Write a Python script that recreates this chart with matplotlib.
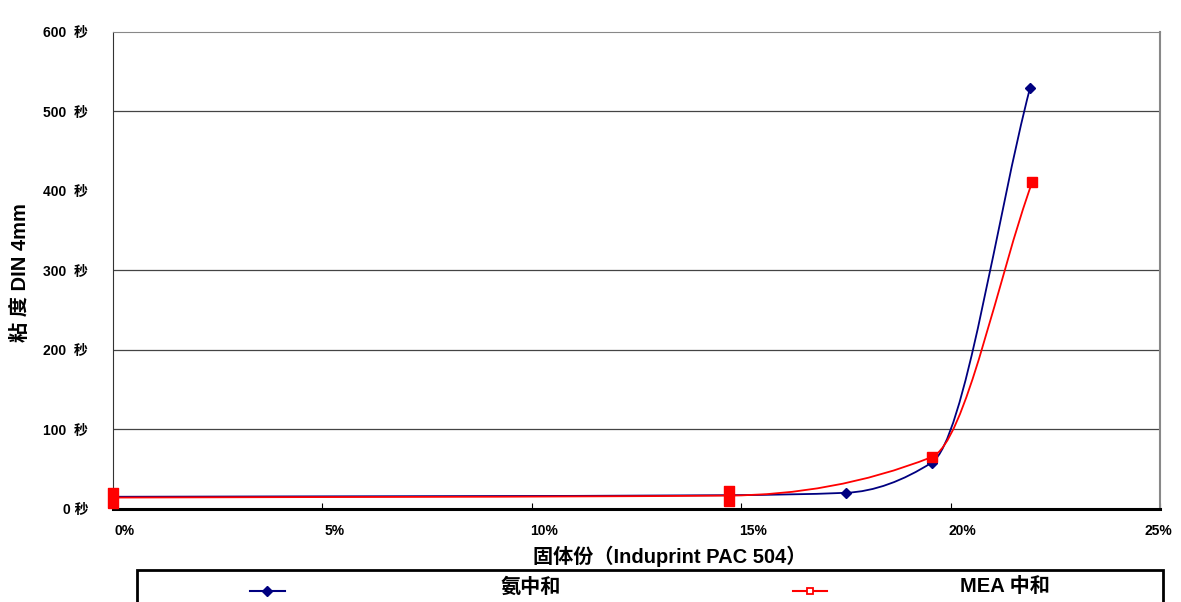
import numpy as np
import matplotlib.pyplot as plt
import matplotlib.transforms as mtransforms
from matplotlib.path import Path
from matplotlib.patches import PathPatch, Rectangle
from matplotlib.lines import Line2D

plt.rcParams['font.family'] = ['Liberation Sans', 'Noto Sans CJK SC']
plt.rcParams['font.weight'] = 'bold'

# data
solids = [0.0, 14.7, 17.5, 19.55, 21.9]          # % solids (Induprint PAC 504)
visc_ammonia = [15, 17, 20, 58, 530]              # s, ammonia neutralised
solids_mea = [0.0, 14.7, 19.55, 21.95]
visc_mea = [14, 16.5, 65, 411]                    # s, MEA neutralised

x_ticks = [0, 5, 10, 15, 20, 25]
x_labels = ['0%', '5%', '10%', '15%', '20%', '25%']
y_ticks = [0, 100, 200, 300, 400, 500, 600]
y_labels = ['0 秒', '100  秒', '200  秒', '300  秒', '400  秒', '500  秒', '600  秒']
grid_levels = [100, 200, 300, 500]
series_names = ['氨中和', 'MEA 中和']

BLUE = '#000080'
RED = '#ff0000'


def smooth_path(xs, ys):
    # smoothed line through the points: monotone cubic Hermite drawn as Beziers
    x = np.asarray(xs, float)
    y = np.asarray(ys, float)
    h = np.diff(x)
    d = np.diff(y) / h
    m = np.zeros_like(x)
    for i in range(1, len(x) - 1):
        if d[i - 1] * d[i] > 0:
            w1 = 2 * h[i] + h[i - 1]
            w2 = h[i] + 2 * h[i - 1]
            m[i] = (w1 + w2) / (w1 / d[i - 1] + w2 / d[i])
    m[0] = d[0]
    m[-1] = d[-1]
    verts = [(x[0], y[0])]
    codes = [Path.MOVETO]
    for i in range(len(x) - 1):
        verts += [(x[i] + h[i] / 3, y[i] + m[i] * h[i] / 3),
                  (x[i + 1] - h[i] / 3, y[i + 1] - m[i + 1] * h[i] / 3),
                  (x[i + 1], y[i + 1])]
        codes += [Path.CURVE4] * 3
    return Path(verts, codes)


fig = plt.figure(figsize=(11.81, 6.02), dpi=100)
ax = fig.add_axes([0.0957, 0.155, 0.8865, 0.792])

for lv in grid_levels:
    ax.axhline(lv, color='#444444', lw=0.9, zorder=1)

ax.add_patch(PathPatch(smooth_path(solids, visc_ammonia), fill=False,
                       edgecolor=BLUE, lw=1.3, zorder=3))
ax.plot(solids, visc_ammonia, ls='none', marker='D', ms=5.5, color=BLUE, zorder=4, clip_on=False)

ax.add_patch(PathPatch(smooth_path(solids_mea, visc_mea), fill=False,
                       edgecolor=RED, lw=1.3, zorder=5))
# first two red points show as tall blocks in the original
tall = [(-1, -2), (1, -2), (1, 2), (-1, 2), (-1, -2)]
ax.plot(solids_mea[:2], visc_mea[:2], ls='none', marker=tall, ms=15, color=RED,
        zorder=6, clip_on=False)
ax.plot(solids_mea[2:], visc_mea[2:], ls='none', marker='s', ms=7, color=RED,
        zorder=6, clip_on=False)

ax.set_xlim(0, 25)
ax.set_ylim(0, 600)
ax.set_xticks(x_ticks)
ax.set_xticklabels(x_labels, fontsize=10, fontweight='bold')
ax.set_yticks(y_ticks)
ax.set_yticklabels(y_labels, fontsize=10, fontweight='bold')
ax.tick_params(axis='y', length=0, pad=18)
ax.tick_params(axis='x', length=4, direction='in', pad=11)
shift = mtransforms.ScaledTranslation(12 / 100, 0, fig.dpi_scale_trans)
for lab in ax.get_xticklabels():
    lab.set_transform(lab.get_transform() + shift)
ax.get_xticklabels()[-1].set_ha('right')
ax.spines['bottom'].set_linewidth(2.2)
ax.spines['bottom'].set_color('black')
ax.spines['left'].set_color('#333333')
ax.spines['top'].set_color('#888888')
ax.spines['right'].set_color('#888888')
ax.spines['right'].set_linewidth(1.5)

fig.text(670 / 1181, 1 - 556 / 602, '固体份（Induprint PAC 504）', fontsize=14.5,
         fontweight='bold', ha='center', va='center')
fig.text(0.017, 1 - 273 / 602, '粘 度 DIN 4mm', rotation=90, fontsize=14.5,
         fontweight='bold', ha='center', va='center')

# legend box (cut off at the bottom like the original)
fig.add_artist(Rectangle((137 / 1181, -0.05), (1163 - 137) / 1181, 0.05 + 1 - 570 / 602,
                         transform=fig.transFigure, fill=False, edgecolor='black', lw=2))
ly = 1 - 591 / 602
fig.add_artist(Line2D([250 / 1181, 285 / 1181], [ly, ly], color=BLUE, lw=1.5,
                      transform=fig.transFigure))
fig.add_artist(Line2D([267 / 1181], [ly], color=BLUE, marker='D', ms=5,
                      transform=fig.transFigure))
fig.add_artist(Line2D([793 / 1181, 827 / 1181], [ly, ly], color=RED, lw=1.5,
                      transform=fig.transFigure))
fig.add_artist(Line2D([810 / 1181], [ly], color=RED, marker='s', ms=5, mfc='white',
                      mew=1.3, transform=fig.transFigure))
fig.text(531 / 1181, 1 - 587 / 602, series_names[0], fontsize=14.5, fontweight='bold',
         ha='center', va='center')
fig.text(1005 / 1181, 1 - 587 / 602, series_names[1], fontsize=14.5, fontweight='bold',
         ha='center', va='center')

fig.savefig('out.png', dpi=100)
